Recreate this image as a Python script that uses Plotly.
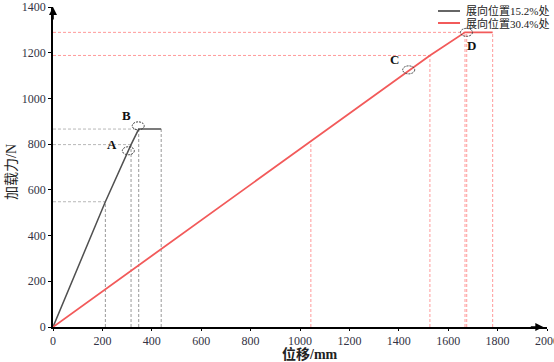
import plotly.graph_objects as go

# ---- data ----
gray_name = "展向位置15.2%处"
red_name = "展向位置30.4%处"
gray_x = [0, 212, 316, 347, 438]
gray_y = [0, 548, 798, 866, 866]
red_x = [0, 1044, 1526, 1668, 1780]
red_y = [0, 813, 1188, 1289, 1289]

# guide (dashed) lines: vertical drop lines and horizontal lines to y-axis
gray_vguide_x = [212, 316, 347, 438]
gray_vguide_y = [548, 798, 866, 866]
gray_hguide_x = [212, 316, 347]
gray_hguide_y = [548, 798, 866]
red_vguide_x = [1044, 1526, 1668, 1675, 1780]
red_vguide_y = [813, 1188, 1289, 1289, 1289]
red_hguide_x = [1526, 1668]
red_hguide_y = [1188, 1289]

# marked points
point_labels = ["A", "B", "C", "D"]
point_x = [305, 345, 1440, 1674]
point_y = [771, 880, 1125, 1289]

x_ticks = [0, 200, 400, 600, 800, 1000, 1200, 1400, 1600, 1800, 2000]
y_ticks = [0, 200, 400, 600, 800, 1000, 1200, 1400]

GRAY = "#505050"
RED = "#f25a5a"
SERIF = "Liberation Serif, Noto Sans CJK SC, serif"

W, H = 554, 362
ML, MR, MT, MB = 53, 7, 7, 35
PW, PH = W - ML - MR, H - MT - MB


def px2paper(px, py):
    return (px - ML) / PW, (H - MB - py) / PH


def seg_lists(xs, ys, vertical):
    X, Y = [], []
    for x, y in zip(xs, ys):
        if vertical:
            X += [x, x, None]
            Y += [0, y, None]
        else:
            X += [0, x, None]
            Y += [y, y, None]
    return X, Y


fig = go.Figure()

for xs, ys, vert, col in [
    (gray_hguide_x, gray_hguide_y, False, "#b8b8b8"),
    (gray_vguide_x, gray_vguide_y, True, "#999999"),
    (red_hguide_x, red_hguide_y, False, "#ff9a9a"),
    (red_vguide_x, red_vguide_y, True, "#ff9a9a"),
]:
    X, Y = seg_lists(xs, ys, vert)
    fig.add_trace(go.Scatter(x=X, y=Y, mode="lines", showlegend=False,
                             hoverinfo="skip",
                             line=dict(color=col, width=1, dash="3px,2px")))

fig.add_trace(go.Scatter(x=gray_x, y=gray_y, mode="lines", name=gray_name,
                         showlegend=False, line=dict(color=GRAY, width=1.5)))
fig.add_trace(go.Scatter(x=red_x, y=red_y, mode="lines", name=red_name,
                         showlegend=False, line=dict(color=RED, width=1.8)))

# manual legend (top right)
for i, (name, col, lw) in enumerate([(gray_name, "#333333", 1.5), (red_name, RED, 2)]):
    py = 11 + 12 * i
    x0, y0 = px2paper(438, py)
    x1, _ = px2paper(460, py)
    fig.add_shape(type="line", xref="paper", yref="paper", x0=x0, x1=x1,
                  y0=y0, y1=y0, line=dict(color=col, width=lw))
    tx, _ = px2paper(464, py)
    fig.add_annotation(x=tx, y=y0, xref="paper", yref="paper", text=name,
                       showarrow=False, xanchor="left", yanchor="middle",
                       font=dict(family=SERIF, size=11, color="#222222"))

# ellipses around marked points
label_shift = {"A": (-16, 6), "B": (-12, 10), "C": (-14, 10), "D": (5, -13)}
for lab, px, py in zip(point_labels, point_x, point_y):
    fig.add_shape(type="circle", xref="x", yref="y",
                  xsizemode="pixel", ysizemode="pixel",
                  xanchor=px, yanchor=py, x0=-6, x1=6, y0=-4, y1=4,
                  line=dict(color="#444444", width=1, dash="2px,1px"))
    dx, dy = label_shift[lab]
    fig.add_annotation(x=px, y=py, xref="x", yref="y", text="<b>%s</b>" % lab,
                       showarrow=False, xshift=dx, yshift=dy,
                       font=dict(family=SERIF, size=13, color="#111111"))

# axis arrows
fig.add_annotation(x=0, y=1400, xref="x", yref="y", ax=0, ay=14,
                   showarrow=True, arrowhead=2, arrowsize=1, arrowwidth=1.6,
                   arrowcolor="black", text="")
fig.add_annotation(x=1985, y=0, xref="x", yref="y", ax=-14, ay=0,
                   showarrow=True, arrowhead=2, arrowsize=1, arrowwidth=1.6,
                   arrowcolor="black", text="")

# axis titles
tx, ty = px2paper(310, 354)
fig.add_annotation(x=tx, y=ty, xref="paper", yref="paper",
                   text="<b>位移/mm</b>", showarrow=False, yanchor="middle",
                   font=dict(family=SERIF, size=14, color="#222222"))
tx, ty = px2paper(11, 172)
fig.add_annotation(x=tx, y=ty, xref="paper", yref="paper",
                   text="加载力/N", showarrow=False, textangle=-90,
                   xanchor="center", yanchor="middle",
                   font=dict(family=SERIF, size=14, color="#222222"))

fig.update_layout(
    width=W, height=H,
    margin=dict(l=ML, r=MR, t=MT, b=MB, autoexpand=False),
    paper_bgcolor="white", plot_bgcolor="white",
    showlegend=False,
    xaxis=dict(range=[0, 2000], tickvals=x_ticks, showgrid=False,
               zeroline=False, showline=True, linecolor="black", linewidth=1.6,
               ticks="outside", ticklen=2, tickcolor="black", automargin=False,
               ticklabeloverflow="allow",
               tickfont=dict(family=SERIF, size=12, color="#333344")),
    yaxis=dict(range=[0, 1400], tickvals=y_ticks, showgrid=False,
               zeroline=False, showline=True, linecolor="black", linewidth=1.6,
               ticks="outside", ticklen=3, tickcolor="black", automargin=False,
               ticklabeloverflow="allow",
               tickfont=dict(family=SERIF, size=12, color="#333344")),
)

fig.write_html("out.html", config={"displayModeBar": False},
               post_script="document.body.style.margin='0px';"
                           "document.body.style.overflow='hidden';")
